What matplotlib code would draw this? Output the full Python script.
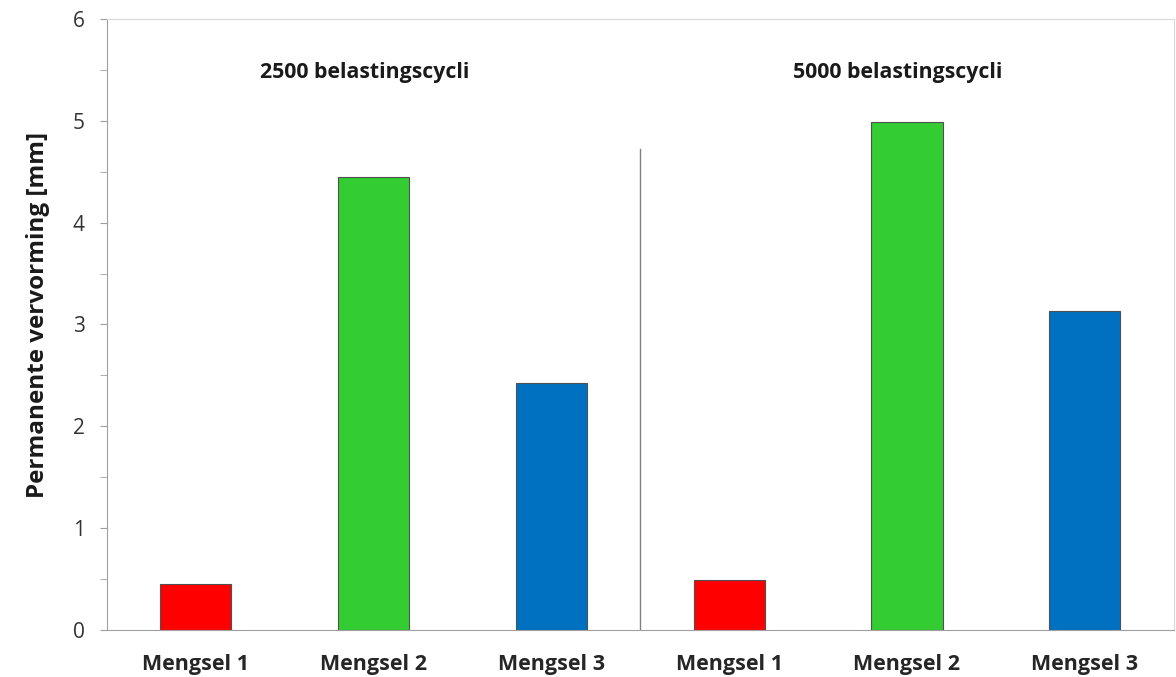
import matplotlib
matplotlib.use("Agg")
import matplotlib.pyplot as plt

# data
categories = ["Mengsel 1", "Mengsel 2", "Mengsel 3", "Mengsel 1", "Mengsel 2", "Mengsel 3"]
values = [0.45, 4.45, 2.43, 0.49, 4.99, 3.13]
colors = ["#FF0000", "#33CC33", "#0070C0", "#FF0000", "#33CC33", "#0070C0"]
group_labels = ["2500 belastingscycli", "5000 belastingscycli"]
y_ticks = [0, 1, 2, 3, 4, 5, 6]

plt.rcParams['font.family'] = ['Open Sans', 'DejaVu Sans']

fig = plt.figure(figsize=(11.76, 6.77), dpi=100)
ax = fig.add_axes([0.091, 0.0694, 0.907, 0.9026])

x = list(range(len(categories)))
ax.bar(x, values, width=0.4, color=colors, edgecolor="#505050", linewidth=0.8, zorder=2)

ax.set_xlim(-0.5, len(categories) - 0.5)
ax.set_ylim(0, 6)
ax.set_yticks(y_ticks)
ax.set_yticks([t + 0.5 for t in y_ticks[:-1]], minor=True)
ax.set_yticklabels([str(t) for t in y_ticks], fontsize=15, color="#333333")
ax.set_xticks(x)
ax.set_xticklabels(categories, fontsize=15.5, fontweight="bold", color="#262626")
ax.tick_params(axis="x", length=0, pad=17)
ax.tick_params(axis="y", which="both", direction="out", length=5, color="#A0A0A0", pad=11)

ax.set_ylabel("Permanente vervorming [mm]", fontsize=17.5, fontweight="bold", color="#1a1a1a")
ax.yaxis.set_label_coords(-0.053, 0.515)

for s in ["left", "bottom"]:
    ax.spines[s].set_color("#A0A0A0")
for s in ["top", "right"]:
    ax.spines[s].set_color("#D9D9D9")

# divider between the two groups
ax.plot([2.5, 2.5], [0, 4.72], color="#808080", linewidth=1.0, zorder=1)

ax.text(0.95, 5.47, group_labels[0], ha="center", va="center", fontsize=15.3, fontweight="bold", color="#1a1a1a")
ax.text(3.95, 5.47, group_labels[1], ha="center", va="center", fontsize=15.3, fontweight="bold", color="#1a1a1a")

fig.savefig("out.png", dpi=100)
